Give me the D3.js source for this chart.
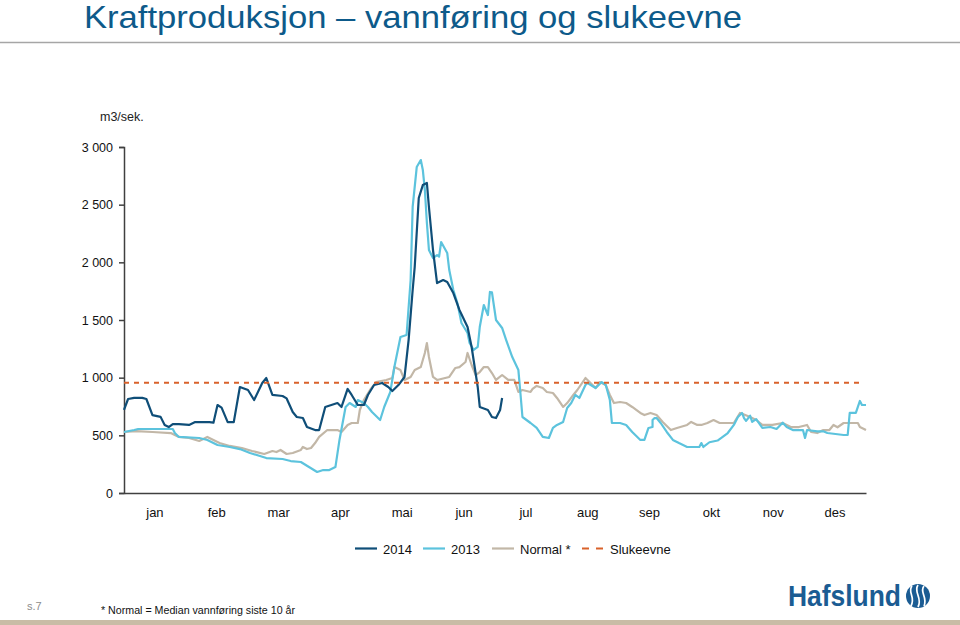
<!DOCTYPE html>
<html>
<head>
<meta charset="utf-8">
<script src="https://cdn.jsdelivr.net/npm/d3@7"></script>
<style>
  body { margin: 0; background: #fff; }
  svg { display: block; font-family: "Liberation Sans", Arial, sans-serif; }
</style>
</head>
<body>
<svg id="chart" width="960" height="625"></svg>
<script>
// --- data: [day of year, m3/sek.] ---
const months = ["jan", "feb", "mar", "apr", "mai", "jun", "jul", "aug", "sep", "okt", "nov", "des"];
const yTicks = [0, 500, 1000, 1500, 2000, 2500, 3000];
const slukeevne = 955;

const flow2014 = [
  [0,720],[2,815],[5,825],[9,825],[11,815],[14,675],[18,660],[20,590],[22,572],[24,598],[27,598],
  [32,590],[35,615],[42,615],[44,610],[46,763],[48,740],[51,615],[54,615],[57,919],[61,893],[64,806],
  [68,954],[70,997],[73,850],[78,841],[80,820],[83,702],[85,659],[88,650],[90,572],[94,546],[96,546],
  [99,746],[102,763],[105,780],[107,746],[110,902],[112,850],[115,763],[118,763],[120,850],[123,936],
  [127,954],[130,919],[132,884],[135,936],[138,1006],[140,1326],[142,1760],[143,1959],[145,2558],
  [147,2670],[149,2688],[150,2480],[152,2107],[154,1820],[157,1846],[159,1829],[162,1734],[165,1587],
  [169,1439],[171,1266],[174,919],[175,746],[179,720],[181,659],[183,650],[185,720],[186,824]
];

const flow2013 = [
  [0,529],[5,546],[7,555],[24,555],[25,520],[27,486],[37,477],[41,460],[46,416],[52,399],[57,381],
  [62,347],[70,303],[78,295],[82,277],[87,269],[91,225],[95,182],[98,199],[101,199],[104,225],
  [106,460],[109,746],[111,780],[114,746],[115,806],[118,780],[120,746],[122,702],[126,633],[128,746],
  [131,876],[133,1092],[136,1352],[139,1370],[141,1846],[142,2480],[144,2826],[146,2887],[147,2800],
  [148,2627],[149,2341],[150,2107],[152,2037],[154,2063],[155,2050],[156,2176],[159,2081],[160,1933],
  [162,1760],[164,1647],[166,1474],[169,1387],[170,1300],[172,1240],[174,1266],[175,1439],[177,1630],
  [179,1543],[180,1743],[181,1740],[183,1500],[186,1431],[188,1326],[191,1179],[194,1066],[195,867],
  [196,659],[200,607],[203,564],[206,486],[209,477],[211,564],[213,590],[216,616],[218,737],[220,780],
  [222,850],[224,824],[227,936],[228,954],[232,910],[235,962],[237,936],[239,806],[240,607],[244,607],
  [247,590],[250,529],[254,460],[256,460],[258,564],[260,572],[260,633],[261,650],[262,650],[264,607],
  [267,529],[270,460],[273,433],[277,399],[280,399],[283,399],[284,433],[285,399],[288,440],[292,455],
  [294,480],[297,520],[300,590],[302,659],[304,694],[305,650],[306,625],[308,670],[309,616],[311,640],
  [314,564],[318,572],[321,555],[324,610],[326,572],[329,546],[334,546],[335,477],[336,546],[341,535],
  [344,535],[346,520],[354,503],[356,503],[357,694],[360,694],[361,746],[362,798],[363,763],[365,763]
];

const flowNormal = [
  [0,529],[6,537],[14,529],[23,520],[27,486],[32,477],[37,451],[41,486],[47,433],[52,408],[58,390],
  [63,364],[69,338],[73,364],[75,355],[77,373],[80,338],[83,347],[87,373],[88,399],[90,381],[92,390],
  [94,433],[96,486],[100,546],[105,546],[107,529],[110,590],[112,607],[115,607],[116,720],[118,806],
  [121,893],[124,962],[129,980],[132,997],[133,1092],[136,1066],[138,980],[141,1006],[143,1066],
  [146,1092],[148,1214],[149,1300],[150,1179],[152,1006],[154,980],[158,997],[160,1006],[163,1084],
  [165,1092],[168,1136],[169,1214],[171,1110],[173,1023],[175,1049],[177,1092],[179,1092],[181,1040],
  [183,980],[186,1023],[189,980],[192,980],[194,876],[196,893],[200,876],[201,902],[203,928],[206,910],
  [208,876],[211,867],[213,824],[216,746],[218,780],[221,850],[223,893],[227,997],[228,980],[232,910],
  [234,962],[237,936],[239,850],[241,780],[244,789],[247,780],[250,746],[254,694],[256,676],[259,694],
  [262,676],[265,616],[269,546],[272,564],[277,590],[279,616],[282,590],[284,590],[287,607],[290,633],
  [293,607],[297,607],[300,607],[303,694],[305,680],[308,659],[311,633],[314,590],[319,590],[324,607],
  [328,572],[332,572],[336,590],[338,529],[341,520],[344,546],[347,546],[349,590],[351,570],[354,607],
  [361,607],[362,572],[365,546]
];

const svg = d3.select("#chart");

// Title + rule
svg.append("text")
  .attr("x", 84).attr("y", 28)
  .attr("textLength", 658).attr("lengthAdjust", "spacingAndGlyphs")
  .style("font-size", "32px")
  .attr("fill", "#0d5a8a")
  .text("Kraftproduksjon – vannføring og slukeevne");

svg.append("line")
  .attr("x1", 0).attr("x2", 960).attr("y1", 42.5).attr("y2", 42.5)
  .attr("stroke", "#a6a6a6").attr("stroke-width", 1.5);

// Scales
const x = d3.scaleLinear().domain([0, 365]).range([124, 866]);
const xMonths = d3.scaleBand().domain(months).range([124, 866]);
const y = d3.scaleLinear().domain([0, 3000]).range([493, 147]);

// Y axis
const yAxis = svg.append("g")
  .attr("transform", "translate(124,0)")
  .call(d3.axisLeft(y)
    .tickValues(yTicks)
    .tickSize(5)
    .tickPadding(6)
    .tickFormat(d => d3.format(",")(d).replace(",", " ")));
yAxis.select(".domain").attr("stroke", "#404040").attr("stroke-width", 1.5);
yAxis.selectAll(".tick line").attr("stroke", "#404040").attr("stroke-width", 1.5);
yAxis.selectAll(".tick text").style("font-size", "12.5px").attr("fill", "#111");

// X axis
const xAxis = svg.append("g")
  .attr("transform", "translate(0,493)")
  .call(d3.axisBottom(xMonths).tickSize(0).tickPadding(15));
xAxis.select(".domain").attr("stroke", "#404040").attr("stroke-width", 1.5);
xAxis.selectAll(".tick text").style("font-size", "13px").attr("fill", "#111");

svg.append("text")
  .attr("x", 100).attr("y", 121)
  .style("font-size", "12.5px").attr("fill", "#222")
  .text("m3/sek.");

// Lines
const line = d3.line()
  .x(d => x(d[0]))
  .y(d => y(d[1]));

const series = [
  { name: "Normal *", data: flowNormal, color: "#c2b7a7" },
  { name: "2013", data: flow2013, color: "#5cc3dd" },
  { name: "2014", data: flow2014, color: "#0f4e78" }
];

svg.append("g").selectAll("path")
  .data(series)
  .join("path")
  .attr("d", d => line(d.data))
  .attr("fill", "none")
  .attr("stroke", d => d.color)
  .attr("stroke-width", 2.2)
  .attr("stroke-linejoin", "round");

svg.append("line")
  .attr("x1", x(0)).attr("x2", x(362))
  .attr("y1", y(slukeevne)).attr("y2", y(slukeevne))
  .attr("stroke", "#d9622b")
  .attr("stroke-width", 2)
  .attr("stroke-dasharray", "5,5");

// Legend
const legendItems = [
  { label: "2014", color: "#0f4e78", x: 355, dash: null },
  { label: "2013", color: "#5cc3dd", x: 423, dash: null },
  { label: "Normal *", color: "#c2b7a7", x: 492, dash: null },
  { label: "Slukeevne", color: "#d9622b", x: 582, dash: "7,7" }
];

const legend = svg.append("g").attr("class", "legend");
legendItems.forEach(d => {
  legend.append("line")
    .attr("x1", d.x).attr("x2", d.x + 22)
    .attr("y1", 548.5).attr("y2", 548.5)
    .attr("stroke", d.color)
    .attr("stroke-width", 2.2)
    .attr("stroke-dasharray", d.dash);
  legend.append("text")
    .attr("x", d.x + 28).attr("y", 554)
    .style("font-size", "13px").attr("fill", "#111")
    .text(d.label);
});

// Footer
svg.append("text")
  .attr("x", 27).attr("y", 610)
  .style("font-size", "11px").attr("fill", "#8c8c8c")
  .text("s.7");

svg.append("text")
  .attr("x", 101).attr("y", 614)
  .attr("textLength", 194).attr("lengthAdjust", "spacingAndGlyphs")
  .style("font-size", "11px").attr("fill", "#111")
  .text("* Normal = Median vannføring siste 10 år");

svg.append("rect")
  .attr("x", 0).attr("y", 620).attr("width", 960).attr("height", 5)
  .attr("fill", "#c9bca6");

// Logo
const logo = svg.append("g").attr("fill", "#1b5c93");
logo.append("text")
  .attr("x", 788).attr("y", 606)
  .attr("textLength", 113).attr("lengthAdjust", "spacingAndGlyphs")
  .style("font-size", "29px").style("font-weight", "bold")
  .text("Hafslund");
logo.append("circle").attr("cx", 918).attr("cy", 596).attr("r", 12);
const wave = logo.append("g")
  .attr("fill", "none").attr("stroke", "#fff").attr("stroke-width", 1.7);
wave.append("path").attr("d", "M912,586 C907,592 916,597 911,606");
wave.append("path").attr("d", "M918,585 C913,592 923,598 918,607");
wave.append("path").attr("d", "M924,586 C919,592 928,597 924,606");
</script>
</body>
</html>
